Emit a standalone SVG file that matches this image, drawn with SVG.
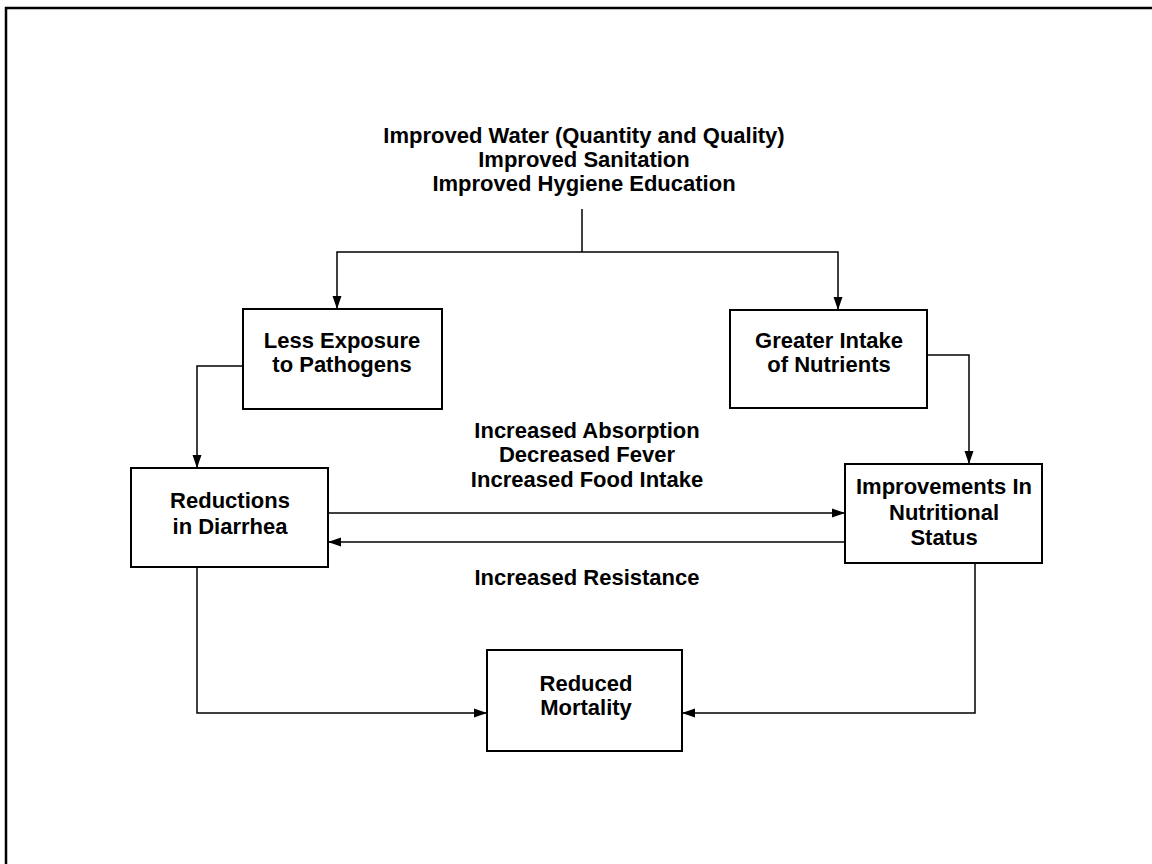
<svg xmlns="http://www.w3.org/2000/svg" width="1152" height="864" viewBox="0 0 1152 864">
<style>
  text { font-family: "Liberation Sans", Arial, Helvetica, sans-serif; font-weight: bold; font-size: 22px; fill: #000; text-anchor: middle; }
  .box { fill: #fff; stroke: #000; stroke-width: 2; }
  .conn { fill: none; stroke: #000; stroke-width: 1.5; }
  .frame { fill: none; stroke: #000; stroke-width: 2.5; }
</style>
<defs>
  <marker id="arrow" markerUnits="userSpaceOnUse" markerWidth="14" markerHeight="10" refX="13" refY="5" orient="auto">
    <path d="M0,0.5 L13,5 L0,9.5 Z" fill="#000"/>
  </marker>
</defs>
<rect width="1152" height="864" fill="#fff"/>
<path class="frame" d="M6,864 V8 H1152"/>

<g id="title">
  <text x="584" y="143">Improved Water (Quantity and Quality)</text>
  <text x="584" y="167">Improved Sanitation</text>
  <text x="584" y="191">Improved Hygiene Education</text>
</g>

<g id="connectors">
  <path class="conn" d="M582,209 V252"/>
  <path class="conn" d="M582,252 H337 V309" marker-end="url(#arrow)"/>
  <path class="conn" d="M582,252 H838 V310" marker-end="url(#arrow)"/>
  <path class="conn" d="M243,366 H197 V468" marker-end="url(#arrow)"/>
  <path class="conn" d="M927,355 H969 V464" marker-end="url(#arrow)"/>
  <path class="conn" d="M328,513 H845" marker-end="url(#arrow)"/>
  <path class="conn" d="M845,542 H328" marker-end="url(#arrow)"/>
  <path class="conn" d="M197,567 V713 H487" marker-end="url(#arrow)"/>
  <path class="conn" d="M975,563 V713 H682" marker-end="url(#arrow)"/>
</g>

<g id="less-exposure">
  <rect class="box" x="243" y="309" width="199" height="100"/>
  <text x="342" y="348">Less Exposure</text>
  <text x="342" y="372">to Pathogens</text>
</g>

<g id="greater-intake">
  <rect class="box" x="730" y="310" width="197" height="98"/>
  <text x="829" y="348">Greater Intake</text>
  <text x="829" y="372">of Nutrients</text>
</g>

<g id="reductions">
  <rect class="box" x="131" y="468" width="197" height="99"/>
  <text x="230" y="508">Reductions</text>
  <text x="230" y="534">in Diarrhea</text>
</g>

<g id="improvements">
  <rect class="box" x="845" y="464" width="197" height="99"/>
  <text x="944" y="494">Improvements In</text>
  <text x="944" y="520">Nutritional</text>
  <text x="944" y="545">Status</text>
</g>

<g id="middle-labels">
  <text x="587" y="438">Increased Absorption</text>
  <text x="587" y="462">Decreased Fever</text>
  <text x="587" y="487">Increased Food Intake</text>
  <text x="587" y="585">Increased Resistance</text>
</g>

<g id="reduced-mortality">
  <rect class="box" x="487" y="650" width="195" height="101"/>
  <text x="586" y="691">Reduced</text>
  <text x="586" y="715">Mortality</text>
</g>
</svg>
